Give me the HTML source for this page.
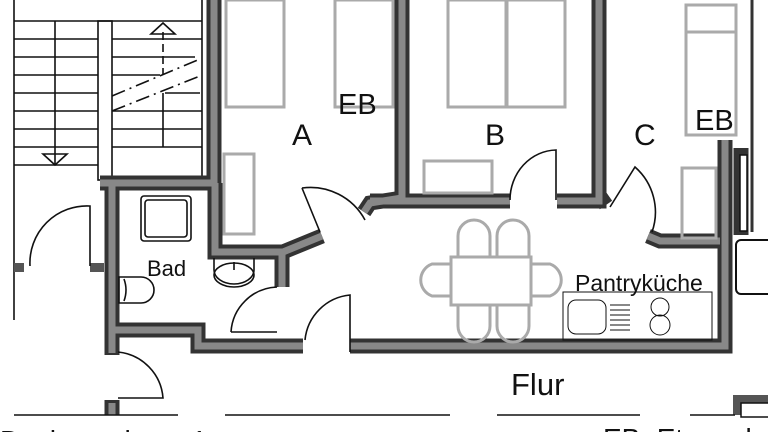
<!DOCTYPE html>
<html><head><meta charset="utf-8"><style>
html,body{margin:0;padding:0;background:#fff;width:768px;height:432px;overflow:hidden}
svg{display:block;overflow:hidden}
text{font-family:"Liberation Sans",sans-serif;fill:#111}
</style></head><body>
<svg width="768" height="432" viewBox="0 0 768 432" xmlns="http://www.w3.org/2000/svg">
<rect width="768" height="432" fill="#fff"/>
<!-- stairs -->
<g stroke="#111" stroke-width="1.6" fill="none">
<line x1="14" y1="0" x2="14" y2="320"/>
<line x1="14" y1="21" x2="202" y2="21"/>
<line x1="14" y1="39" x2="98" y2="39"/><line x1="112" y1="39" x2="202" y2="39"/>
<line x1="14" y1="57" x2="98" y2="57"/><line x1="112" y1="57" x2="195" y2="57"/>
<line x1="14" y1="75" x2="98" y2="75"/><line x1="112" y1="75" x2="160" y2="75"/>
<line x1="14" y1="93" x2="98" y2="93"/><line x1="165" y1="93" x2="200" y2="93"/>
<line x1="14" y1="111" x2="98" y2="111"/><line x1="112" y1="111" x2="202" y2="111"/>
<line x1="14" y1="129" x2="98" y2="129"/><line x1="112" y1="129" x2="202" y2="129"/>
<line x1="14" y1="147" x2="98" y2="147"/><line x1="112" y1="147" x2="202" y2="147"/>
<line x1="14" y1="165" x2="98" y2="165"/>
<rect x="98" y="21" width="14" height="159"/>
<line x1="55" y1="21" x2="55" y2="165"/>
<polygon points="43,154 67,154 55,165"/>
<line x1="163" y1="32" x2="163" y2="75" stroke-dasharray="8,4"/>
<line x1="163" y1="93" x2="163" y2="147"/>
<polygon points="151,34 175,34 163,23"/>
<line x1="112" y1="96" x2="200" y2="59" stroke-dasharray="14,5,2,5"/>
<line x1="112" y1="111" x2="200" y2="76" stroke-dasharray="14,5,2,5"/>
<line x1="202" y1="0" x2="202" y2="180"/>
</g>
<g fill="none" stroke-linejoin="miter" stroke-linecap="butt">
<g stroke="#333" stroke-width="15">
<polyline points="214,0 214,183 100,183"/>
<polyline points="112,183 112,330 198,330 198,346 303,346"/>
<polyline points="112,330 112,355"/>
<polyline points="215,183 215,252 283,252 322,236"/>
<polyline points="282,252 282,287"/>
<polyline points="402,0 402,198 370,203 364,212"/>
<polyline points="370,201 510,201"/>
<polyline points="557,201 599,201 599,0"/>
<polyline points="599,195 606,205"/>
<polyline points="350,346 725,346 725,140"/>
<polyline points="648,236 660,241 720,241"/>
<polyline points="112,400 112,415"/>
<polyline points="741,148 741,235"/>
</g>
<g stroke="#888" stroke-width="7">
<polyline points="214,0 214,183 100,183"/>
<polyline points="112,183 112,330 198,330 198,346 303,346"/>
<polyline points="112,330 112,353"/>
<polyline points="215,183 215,252 283,252 322,236"/>
<polyline points="282,252 282,287"/>
<polyline points="402,0 402,198 370,203 364,212"/>
<polyline points="370,201 510,201"/>
<polyline points="557,201 599,201 599,0"/>
<polyline points="350,346 725,346 725,140"/>
<polyline points="648,236 660,241 720,241"/>
<polyline points="112,403 112,415"/>
</g>
</g>
<rect x="14" y="263" width="10" height="9" fill="#555"/>
<rect x="90" y="263" width="14" height="9" fill="#555"/>
<rect x="740" y="155" width="7" height="76" fill="#fff" stroke="#111" stroke-width="1.5"/>
<line x1="752" y1="0" x2="752" y2="232" stroke="#333" stroke-width="3"/>
<rect x="736" y="240" width="40" height="54" rx="5" fill="#fff" stroke="#111" stroke-width="2"/>
<rect x="733" y="395" width="40" height="20" fill="#555"/>
<rect x="741" y="403" width="30" height="14" fill="#fff" stroke="#111" stroke-width="1.5"/>
<!-- beds -->
<g fill="none" stroke="#aaa" stroke-width="3">
<rect x="226" y="0" width="58" height="107"/>
<rect x="335" y="0" width="58" height="107"/>
<rect x="448" y="0" width="58" height="107"/>
<rect x="507" y="0" width="58" height="107"/>
<rect x="686" y="5" width="50" height="130"/>
<line x1="686" y1="32" x2="736" y2="32"/>
<rect x="224" y="154" width="30" height="80"/>
<rect x="424" y="161" width="68" height="32"/>
<rect x="682" y="168" width="34" height="70"/>
</g>
<!-- doors -->
<g fill="none" stroke="#111" stroke-width="1.6">
<path d="M30,266 A57,57 0 0 1 90,206 L90,266"/>
<path d="M302,188 L320,232 M302,188 A62,62 0 0 1 365,220"/>
<path d="M556,200 L556,150 A47,50 0 0 0 510,200"/>
<path d="M610,207 L635,167 A60,60 0 0 1 652,232"/>
<path d="M231,332 L277,332 M231,332 A48,48 0 0 1 277,287"/>
<path d="M350,352 L350,295 A50,50 0 0 0 305,340"/>
<path d="M118,352 A50,50 0 0 1 163,398 L118,398"/>
<line x1="14" y1="415" x2="178" y2="415"/><line x1="225" y1="415" x2="450" y2="415"/>
<line x1="497" y1="415" x2="640" y2="415"/><line x1="690" y1="415" x2="735" y2="415"/>
<rect x="141" y="196" width="50" height="45" rx="3"/>
<rect x="145" y="200" width="42" height="37" rx="3"/>
<path d="M119,277 h22 a13,13 0 0 1 0,26 h-22 z"/>
<path d="M124,279 q4,11 0,22"/>
<path d="M214,258 v12 a20,14 0 0 0 40,0 v-12"/>
<ellipse cx="234" cy="275" rx="20" ry="12"/>
<line x1="234" y1="262" x2="234" y2="270"/>
<rect x="563" y="292" width="149" height="48" stroke-width="1"/>
<rect x="568" y="300" width="38" height="34" rx="8" stroke-width="1"/>
<g stroke-width="1"><line x1="610" y1="305" x2="630" y2="305"/><line x1="610" y1="310" x2="630" y2="310"/><line x1="610" y1="315" x2="630" y2="315"/><line x1="610" y1="320" x2="630" y2="320"/><line x1="610" y1="325" x2="630" y2="325"/><line x1="610" y1="330" x2="630" y2="330"/></g>
<circle cx="660" cy="307" r="9" stroke-width="1"/><circle cx="660" cy="325" r="10" stroke-width="1"/>
</g>
<g fill="none" stroke="#aaa" stroke-width="3">
<rect x="451" y="257" width="80" height="48"/>
<path d="M458,256 v-20 a16,16 0 0 1 32,0 v20"/>
<path d="M497,256 v-20 a16,16 0 0 1 32,0 v20"/>
<path d="M458,306 v20 a16,16 0 0 0 32,0 v-20"/>
<path d="M497,306 v20 a16,16 0 0 0 32,0 v-20"/>
<path d="M450,264 h-18 a17,17 0 0 0 0,32 h18"/>
<path d="M532,264 h18 a17,17 0 0 1 0,32 h-18"/>
</g>
<text x="338" y="114" font-size="29">EB</text>
<text x="292" y="145" font-size="30">A</text>
<text x="485" y="145" font-size="30">B</text>
<text x="634" y="145" font-size="30">C</text>
<text x="695" y="130" font-size="29">EB</text>
<text x="147" y="276" font-size="22">Bad</text>
<text x="575" y="291" font-size="23">Pantryküche</text>
<text x="511" y="395" font-size="31">Flur</text>
<text x="0" y="450" font-size="28">Dachgeschoss 1</text>
<text x="603" y="448" font-size="28">EB=Etagenbett</text>
</svg>
</body></html>
